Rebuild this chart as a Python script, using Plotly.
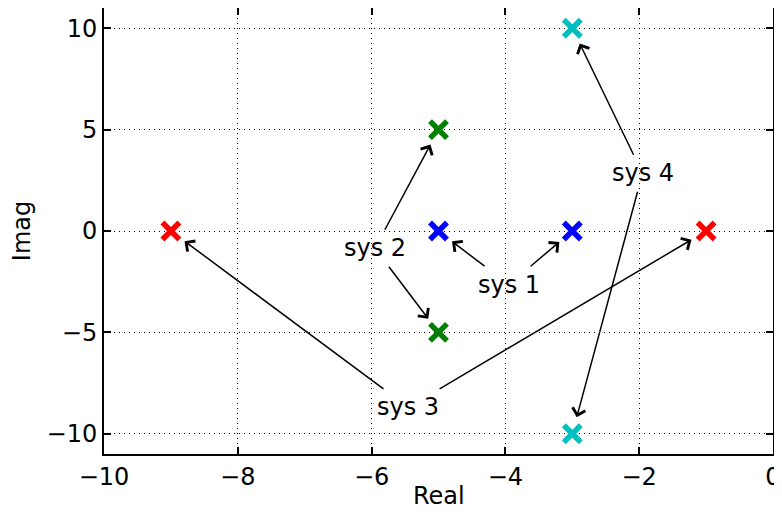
import plotly.graph_objects as go

# Pole locations for each system (real, imaginary)
sys_names = ["sys 1", "sys 2", "sys 3", "sys 4"]
poles_real = [[-5, -3], [-5, -5], [-9, -1], [-3, -3]]
poles_imag = [[0, 0], [5, -5], [0, 0], [10, -10]]
colors = ["#0000ff", "#008000", "#ff0000", "#00bfbf"]

# Label positions (data coords)
label_x = [-3.95, -5.95, -5.45, -1.95]
label_y = [-2.65, -0.85, -8.7, 2.85]

x_ticks = [-10, -8, -6, -4, -2, 0]
y_ticks = [-10, -5, 0, 5, 10]

FONT = "DejaVu Sans"
FS = 24

fig = go.Figure()
for name, xr, yi, c in zip(sys_names, poles_real, poles_imag, colors):
    fig.add_trace(go.Scatter(
        x=xr, y=yi, mode="markers", name=name,
        marker=dict(symbol="x-thin", size=17, color=c,
                    line=dict(color=c, width=5.5)),
        showlegend=False, hoverinfo="skip", cliponaxis=False,
    ))

annotations = []
for name, xr, yi, lx, ly in zip(sys_names, poles_real, poles_imag, label_x, label_y):
    for k, (px, py) in enumerate(zip(xr, yi)):
        annotations.append(dict(
            x=px, y=py, xref="x", yref="y",
            ax=lx, ay=ly, axref="x", ayref="y",
            text=name,
            font=dict(family=FONT, size=FS,
                      color="black" if k == 0 else "rgba(0,0,0,0)"),
            showarrow=True, arrowhead=4, arrowsize=1.7, arrowwidth=1.5,
            arrowcolor="black", standoff=17, borderpad=4,
        ))

# x-axis title placed as a paper annotation so it can sit low near the edge
annotations.append(dict(
    text="Real", xref="paper", yref="paper", x=0.5, y=0,
    xanchor="center", yanchor="bottom", yshift=-57, showarrow=False,
    borderpad=0,
    font=dict(family=FONT, size=FS, color="black"),
))

axis_common = dict(
    showline=True, linecolor="black", linewidth=2, mirror="ticks",
    ticks="inside", ticklen=7, tickwidth=1.5, tickcolor="black",
    showgrid=True, gridcolor="black", gridwidth=1, griddash="1px,4px",
    zeroline=False, automargin=False, ticklabeloverflow="allow",
    tickfont=dict(family=FONT, size=FS, color="black"),
    title_font=dict(family=FONT, size=FS, color="black"),
)

# The page body adds an 8px margin, so the figure is sized to fit the window.
fig.update_layout(
    width=774, height=504,
    margin=dict(l=96, r=9, t=0, b=58),
    paper_bgcolor="white", plot_bgcolor="white",
    font=dict(family=FONT, size=FS, color="black"),
    xaxis=dict(range=[-10, 0], tickvals=x_ticks, ticklabelstandoff=0,
               **axis_common),
    yaxis=dict(range=[-11, 11], tickvals=y_ticks,
               title=dict(text="Imag", standoff=12), ticklabelstandoff=0,
               **axis_common),
    annotations=annotations,
)

fig.write_html("out.html")
